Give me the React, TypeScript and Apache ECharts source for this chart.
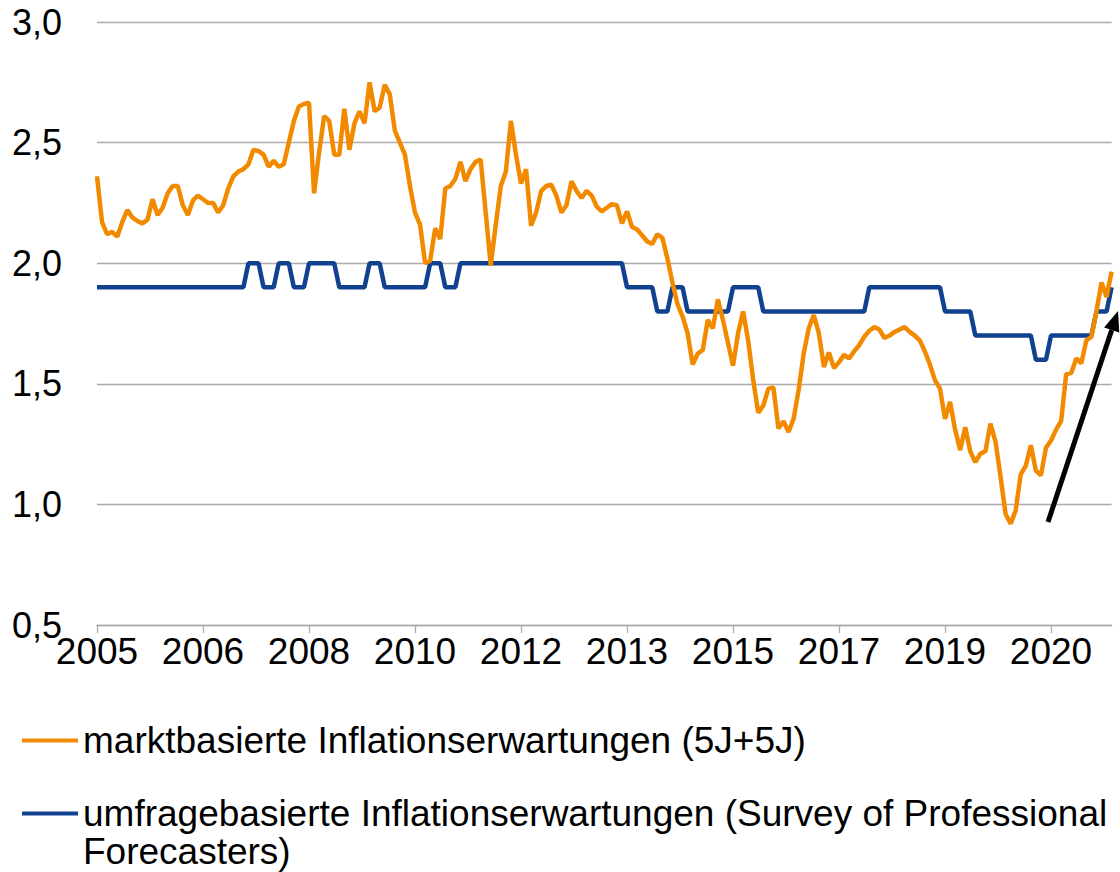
import React, { useEffect, useRef } from 'react';
import * as echarts from 'echarts';

// Monthly observations, January 2005 to October 2021
const START_YEAR = 2005;
const categories: string[] = [];
for (let i = 0; i < 202; i++) {
  categories.push(`${START_YEAR + Math.floor(i / 12)}-${String((i % 12) + 1).padStart(2, '0')}`);
}

const seriesNames = [
  'marktbasierte Inflationserwartungen (5J+5J)',
  'umfragebasierte Inflationserwartungen (Survey of Professional Forecasters)',
];

// market based (5y5y inflation-linked swap), %
const marketBased: number[] = [
  2.36, 2.17, 2.12, 2.13, 2.11, 2.17, 2.22, 2.19, 2.175, 2.165, 2.18, 2.265, // 2005
  2.20, 2.23, 2.29, 2.32, 2.32, 2.24, 2.20, 2.26, 2.28, 2.265, 2.25, 2.25, // 2006
  2.21, 2.24, 2.31, 2.36, 2.38, 2.39, 2.41, 2.47, 2.465, 2.45, 2.40, 2.425, // 2007
  2.40, 2.41, 2.50, 2.59, 2.65, 2.66, 2.665, 2.29, 2.46, 2.61, 2.59, 2.45, // 2008
  2.45, 2.64, 2.47, 2.58, 2.63, 2.58, 2.75, 2.63, 2.645, 2.74, 2.70, 2.55, // 2009
  2.50, 2.45, 2.32, 2.21, 2.16, 2.00, 2.01, 2.145, 2.10, 2.31, 2.32, 2.35, // 2010
  2.42, 2.34, 2.39, 2.42, 2.43, 2.21, 1.99, 2.16, 2.32, 2.38, 2.59, 2.45, // 2011
  2.33, 2.39, 2.155, 2.21, 2.30, 2.32, 2.325, 2.28, 2.21, 2.24, 2.34, 2.30, // 2012
  2.27, 2.30, 2.28, 2.235, 2.215, 2.23, 2.245, 2.24, 2.165, 2.215, 2.15, 2.14, // 2013
  2.115, 2.09, 2.08, 2.12, 2.105, 2.02, 1.92, 1.83, 1.78, 1.71, 1.58, 1.625, // 2014
  1.64, 1.765, 1.73, 1.85, 1.765, 1.67, 1.575, 1.71, 1.80, 1.68, 1.515, 1.38, // 2015
  1.41, 1.48, 1.485, 1.315, 1.345, 1.30, 1.355, 1.475, 1.625, 1.73, 1.785, 1.71, // 2016
  1.57, 1.63, 1.565, 1.59, 1.62, 1.605, 1.635, 1.66, 1.695, 1.72, 1.735, 1.725, // 2017
  1.69, 1.70, 1.715, 1.725, 1.735, 1.715, 1.70, 1.68, 1.635, 1.58, 1.515, 1.48, // 2018
  1.355, 1.425, 1.31, 1.225, 1.32, 1.22, 1.175, 1.21, 1.22, 1.335, 1.26, 1.115, // 2019
  0.96, 0.92, 0.975, 1.125, 1.16, 1.245, 1.14, 1.12, 1.235, 1.265, 1.31, 1.345, // 2020
  1.54, 1.545, 1.605, 1.585, 1.68, 1.695, 1.80, 1.92, 1.86, 1.965, // 2021
];

// survey based (ECB SPF, long-term), %
const surveyBased: number[] = [
  1.9, 1.9, 1.9, 1.9, 1.9, 1.9, 1.9, 1.9, 1.9, 1.9, 1.9, 1.9, // 2005
  1.9, 1.9, 1.9, 1.9, 1.9, 1.9, 1.9, 1.9, 1.9, 1.9, 1.9, 1.9, // 2006
  1.9, 1.9, 1.9, 1.9, 1.9, 1.9, 2.0, 2.0, 2.0, 1.9, 1.9, 1.9, // 2007
  2.0, 2.0, 2.0, 1.9, 1.9, 1.9, 2.0, 2.0, 2.0, 2.0, 2.0, 2.0, // 2008
  1.9, 1.9, 1.9, 1.9, 1.9, 1.9, 2.0, 2.0, 2.0, 1.9, 1.9, 1.9, // 2009
  1.9, 1.9, 1.9, 1.9, 1.9, 1.9, 2.0, 2.0, 2.0, 1.9, 1.9, 1.9, // 2010
  2.0, 2.0, 2.0, 2.0, 2.0, 2.0, 2.0, 2.0, 2.0, 2.0, 2.0, 2.0, // 2011
  2.0, 2.0, 2.0, 2.0, 2.0, 2.0, 2.0, 2.0, 2.0, 2.0, 2.0, 2.0, // 2012
  2.0, 2.0, 2.0, 2.0, 2.0, 2.0, 2.0, 2.0, 2.0, 1.9, 1.9, 1.9, // 2013
  1.9, 1.9, 1.9, 1.8, 1.8, 1.8, 1.9, 1.9, 1.9, 1.8, 1.8, 1.8, // 2014
  1.8, 1.8, 1.8, 1.8, 1.8, 1.8, 1.9, 1.9, 1.9, 1.9, 1.9, 1.9, // 2015
  1.8, 1.8, 1.8, 1.8, 1.8, 1.8, 1.8, 1.8, 1.8, 1.8, 1.8, 1.8, // 2016
  1.8, 1.8, 1.8, 1.8, 1.8, 1.8, 1.8, 1.8, 1.8, 1.9, 1.9, 1.9, // 2017
  1.9, 1.9, 1.9, 1.9, 1.9, 1.9, 1.9, 1.9, 1.9, 1.9, 1.9, 1.9, // 2018
  1.8, 1.8, 1.8, 1.8, 1.8, 1.8, 1.7, 1.7, 1.7, 1.7, 1.7, 1.7, // 2019
  1.7, 1.7, 1.7, 1.7, 1.7, 1.7, 1.6, 1.6, 1.6, 1.7, 1.7, 1.7, // 2020
  1.7, 1.7, 1.7, 1.7, 1.7, 1.7, 1.8, 1.8, 1.8, 1.9, // 2021
];

const yMin = 0.5;
const yMax = 3.0;
const yStep = 0.5;

const ORANGE = '#F28A00';
const BLUE = '#12428F';
const GRID = '#ABABAB';
const FONT = 'Liberation Sans, Arial, Helvetica, sans-serif';

export default function App() {
  const ref = useRef<HTMLDivElement>(null);

  useEffect(() => {
    document.body.style.margin = '0';
    if (!ref.current) return;
    const chart = echarts.init(ref.current, null, { renderer: 'svg' });

    // arrow annotation
    const tail = [1048, 522];
    const tip = [1118, 311];
    const dx = tip[0] - tail[0];
    const dy = tip[1] - tail[1];
    const len = Math.sqrt(dx * dx + dy * dy);
    const ux = dx / len, uy = dy / len;
    const nx = -uy, ny = ux;
    const headLen = 20, headHalf = 8;
    const bx = tip[0] - headLen * ux, by = tip[1] - headLen * uy;

    const legendText = { fontSize: 37, color: '#000', fontFamily: FONT };

    chart.setOption({
      animation: false,
      backgroundColor: '#ffffff',
      textStyle: { fontFamily: FONT },
      grid: { left: 97, right: 8.4, top: 22, bottom: 247, containLabel: false },
      xAxis: {
        type: 'category',
        data: categories,
        boundaryGap: false,
        axisLine: { show: true, lineStyle: { color: GRID, width: 1.3 } },
        axisTick: { show: true, interval: 20, length: 8, lineStyle: { color: GRID, width: 1.3 } },
        axisLabel: {
          interval: 20,
          margin: 8,
          color: '#000',
          fontSize: 37,
          fontFamily: FONT,
          formatter: (v: string) => v.slice(0, 4),
        },
        splitLine: { show: false },
      },
      yAxis: {
        type: 'value',
        min: yMin,
        max: yMax,
        interval: yStep,
        axisLine: { show: false },
        axisTick: { show: false },
        axisLabel: {
          margin: 35,
          color: '#000',
          fontSize: 36,
          fontFamily: FONT,
          formatter: (v: number) => v.toFixed(1).replace('.', ','),
        },
        splitLine: { show: true, lineStyle: { color: GRID, width: 1.3 } },
      },
      legend: [
        {
          data: [seriesNames[0]],
          left: 22,
          top: 719,
          padding: 0,
          icon: 'rect',
          itemWidth: 56,
          itemHeight: 4,
          selectedMode: false,
          textStyle: { ...legendText, lineHeight: 43 },
        },
        {
          data: [seriesNames[1]],
          left: 22,
          top: 757,
          padding: 0,
          icon: 'rect',
          itemWidth: 56,
          itemHeight: 4,
          selectedMode: false,
          formatter: () =>
            '{a| }\n{b|umfragebasierte Inflationserwartungen (Survey of Professional}\n{c|Forecasters)}',
          textStyle: {
            ...legendText,
            rich: {
              a: { ...legendText, lineHeight: 30 },
              b: { ...legendText, lineHeight: 46 },
              c: { ...legendText, lineHeight: 30 },
            },
          },
        },
      ],
      series: [
        {
          name: seriesNames[0],
          type: 'line',
          data: marketBased,
          showSymbol: false,
          symbol: 'none',
          z: 3,
          color: ORANGE,
          lineStyle: { color: ORANGE, width: 4.5 },
        },
        {
          name: seriesNames[1],
          type: 'line',
          data: surveyBased,
          showSymbol: false,
          symbol: 'none',
          z: 2,
          color: BLUE,
          lineStyle: { color: BLUE, width: 4.5 },
        },
      ],
      graphic: [
        {
          type: 'line',
          z: 10,
          shape: { x1: tail[0], y1: tail[1], x2: bx, y2: by },
          style: { stroke: '#000', lineWidth: 5 },
        },
        {
          type: 'polygon',
          z: 10,
          shape: {
            points: [
              [tip[0], tip[1]],
              [bx + headHalf * nx, by + headHalf * ny],
              [bx - headHalf * nx, by - headHalf * ny],
            ],
          },
          style: { fill: '#000' },
        },
      ],
    });

    return () => chart.dispose();
  }, []);

  return <div ref={ref} style={{ width: 1120, height: 872 }} />;
}
